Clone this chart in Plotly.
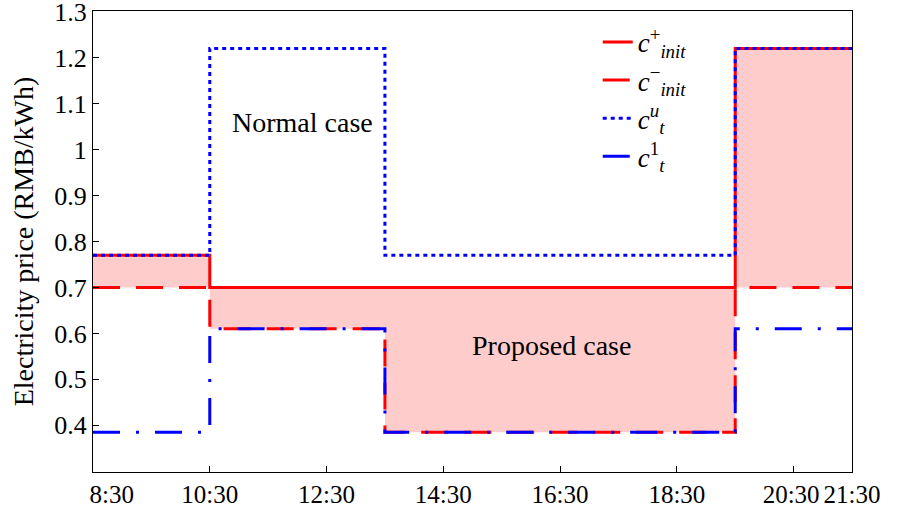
import plotly.graph_objects as go

# step breakpoints (hours) and prices per period (last value repeated for hv steps)
hours = [8.5, 10.5, 13.5, 19.5, 21.5]
c_init_plus = [0.77, 0.70, 0.70, 1.22, 1.22]
c_init_minus = [0.70, 0.61, 0.385, 0.70, 0.70]
c_t_u = [0.77, 1.22, 0.77, 1.22, 1.22]
c_t_1 = [0.385, 0.61, 0.385, 0.61, 0.61]

x_ticks = [8.5, 10.5, 12.5, 14.5, 16.5, 18.5, 20.5, 21.5]
x_labels = ['8:30', '10:30', '12:30', '14:30', '16:30', '18:30', '20:30', '21:30']
y_ticks = [0.4, 0.5, 0.6, 0.7, 0.8, 0.9, 1.0, 1.1, 1.2, 1.3]
y_labels = ['0.4', '0.5', '0.6', '0.7', '0.8', '0.9', '1', '1.1', '1.2', '1.3']

serif = 'Liberation Serif'

# the original figure nudges the end labels off their ticks
x_text = list(x_labels)
x_text[0] = '\u2003\u2002' + x_text[0]
x_text[-2] = x_text[-2] + '\u2009'

fig = go.Figure()

# shaded band between c_init^- and c_init^+
fig.add_trace(go.Scatter(x=hours, y=c_init_minus, mode='lines', line_shape='hv',
                         line=dict(width=0), showlegend=False, hoverinfo='skip'))
fig.add_trace(go.Scatter(x=hours, y=c_init_plus, mode='lines', line_shape='hv',
                         line=dict(width=0), fill='tonexty',
                         fillcolor='rgb(255,204,204)', showlegend=False, hoverinfo='skip'))

fig.add_trace(go.Scatter(
    x=hours, y=c_init_plus, mode='lines', line_shape='hv',
    line=dict(color='#ff0000', width=3),
    name='<i>c</i><sup>+</sup><sub><i>init</i></sub>'))
fig.add_trace(go.Scatter(
    x=hours, y=c_init_minus, mode='lines', line_shape='hv',
    line=dict(color='#ff0000', width=3, dash='27px,16px'),
    name='<i>c</i><sup>\u2212</sup><sub><i>init</i></sub>'))
fig.add_trace(go.Scatter(
    x=hours, y=c_t_u, mode='lines', line_shape='hv',
    line=dict(color='#0000ff', width=3, dash='4px,4px'),
    name='<i>c</i><sup><i>u</i></sup><sub><i>t</i></sub>'))
fig.add_trace(go.Scatter(
    x=hours, y=c_t_1, mode='lines', line_shape='hv',
    line=dict(color='#0000ff', width=3, dash='27px,16px,3px,16px'),
    name='<i>c</i><sup>1</sup><sub><i>t</i></sub>'))

fig.add_annotation(x=12.08, y=1.06, text='Normal case', showarrow=False,
                   font=dict(family=serif, size=28, color='black'))
fig.add_annotation(x=16.35, y=0.573, text='Proposed case', showarrow=False,
                   font=dict(family=serif, size=28, color='black'))

fig.update_layout(
    width=903, height=519,
    margin=dict(l=93, r=51, t=11, b=47, autoexpand=False),
    paper_bgcolor='white', plot_bgcolor='white',
    font=dict(family=serif, size=26, color='black'),
    showlegend=True,
    legend=dict(x=0.665, y=0.985, xanchor='left', yanchor='top',
                traceorder='normal',
                bgcolor='rgba(255,255,255,0)', font=dict(family=serif, size=27),
                tracegroupgap=0),
)
fig.update_xaxes(range=[8.5, 21.5], tickvals=x_ticks, ticktext=x_text,
                 tickangle=0, automargin=False, ticklabeloverflow='allow',
                 showgrid=False, zeroline=False, showline=True, linecolor='black',
                 linewidth=1.2, mirror=True, ticks='inside', ticklen=6,
                 tickcolor='black', tickfont=dict(family=serif, size=25))
fig.update_yaxes(range=[0.2985, 1.3015], tickvals=y_ticks, ticktext=y_labels,
                 automargin=False, ticklabeloverflow='allow',
                 showgrid=False, zeroline=False, showline=True, linecolor='black',
                 linewidth=1.2, mirror=True, ticks='inside', ticklen=6,
                 tickcolor='black', tickfont=dict(family=serif, size=26),
                 title=dict(text='Electricity price (RMB/kWh)', standoff=12,
                            font=dict(family=serif, size=28)))

# page body has an 8px default margin; drop it so the figure sits at the window origin
fig.write_html("out.html", config={'displayModeBar': False},
               post_script="document.body.style.margin='0';")
